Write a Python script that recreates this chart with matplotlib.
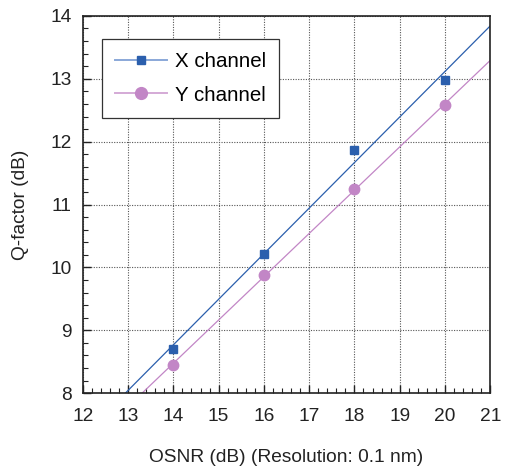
import numpy as np
import matplotlib.pyplot as plt
from matplotlib.lines import Line2D
from matplotlib.ticker import MultipleLocator

plt.rcParams['font.family'] = ['Liberation Sans', 'DejaVu Sans']

osnr = [14, 16, 18, 20]
q_x = [8.70, 10.22, 11.87, 12.98]
q_y = [8.45, 9.88, 11.25, 12.58]

blue = '#2b5fad'
pink = '#c286c6'
fs = 13.8

fig = plt.figure(figsize=(5.08, 4.67), dpi=100)
ax = fig.add_axes([0.163, 0.158, 0.802, 0.808])

# linear fits drawn across the whole axis
xfit = np.array([12, 21])
px = np.polyfit(osnr, q_x, 1)
py = np.polyfit(osnr, q_y, 1)
ax.plot(xfit, np.polyval(px, xfit), color=blue, lw=0.9)
ax.plot(xfit, np.polyval(py, xfit), color=pink, lw=0.9)

ax.plot(osnr, q_x, 's', color=blue, ms=5.5, ls='none')
ax.plot(osnr, q_y, 'o', color=pink, ms=7.5, ls='none')

ax.set_xlim(12, 21)
ax.set_ylim(8, 14)
ax.xaxis.set_major_locator(MultipleLocator(1))
ax.xaxis.set_minor_locator(MultipleLocator(0.2))
ax.yaxis.set_major_locator(MultipleLocator(1))
ax.yaxis.set_minor_locator(MultipleLocator(0.2))
ax.tick_params(which='both', direction='in', top=False, right=False,
               labelsize=fs, colors='#222222')
ax.tick_params(which='major', length=6, width=1)
ax.tick_params(which='minor', length=3.5, width=0.8)
ax.tick_params(axis='x', pad=11)
ax.tick_params(axis='y', pad=8)
for s in ax.spines.values():
    s.set_linewidth(1.2)
    s.set_color('#222222')

ax.grid(which='major', color='#555555', ls=(0, (1, 1.3)), lw=0.8)

ax.set_xlabel('OSNR (dB) (Resolution: 0.1 nm)', fontsize=fs, labelpad=17, color='#222222')
ax.set_ylabel('Q-factor (dB)', fontsize=fs, labelpad=15, color='#222222')

handles = [
    Line2D([], [], color='#8aa8d8', lw=1.4, marker='s', ms=6,
           mfc=blue, mec=blue),
    Line2D([], [], color='#d4aad6', lw=1.4, marker='o', ms=8.5,
           mfc=pink, mec=pink),
]
leg = ax.legend(handles, ['X channel', 'Y channel'], loc='upper left',
                bbox_to_anchor=(0.047, 0.939), borderaxespad=0,
                fontsize=fs + 1, frameon=True,
                fancybox=False, edgecolor='#333333', framealpha=1,
                handlelength=2.5, borderpad=0.65, labelspacing=0.7,
                handletextpad=0.4)
leg.get_frame().set_linewidth(0.9)

fig.savefig('out.png', dpi=100)
